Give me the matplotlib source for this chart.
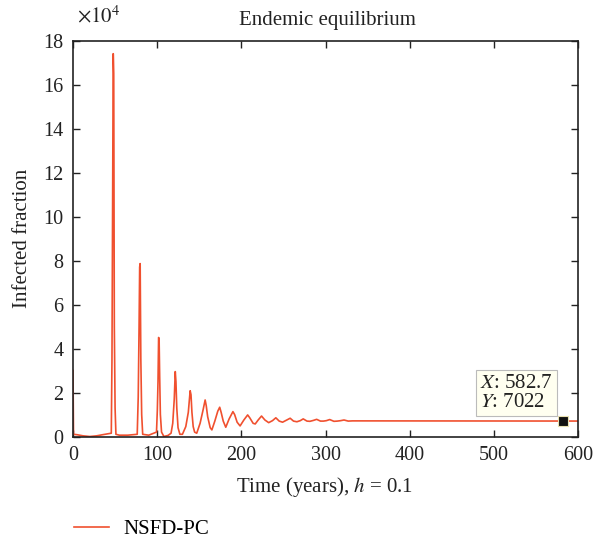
import matplotlib
matplotlib.use('Agg')
import matplotlib.pyplot as plt

# infected fraction in units of 1e4, keypoints
time_years = [0, 0.6, 5, 12, 20, 28, 35, 45.5, 46.3, 47.0, 47.8, 48.4, 49.1, 50.0, 51.0,
              55, 65, 76.3, 77.5, 78.5, 79.2, 79.8, 80.6, 81.6, 82.8, 90, 99.2,
              100.2, 101.0, 101.7, 102.3, 103.0, 103.8, 105.2, 108, 113, 116.5,
              118.5, 120.3, 121.5, 122.3, 123.3, 124.8, 127, 130,
              134, 137, 139.2, 140.2, 141.3, 142.8, 144.5, 147,
              151, 154.5, 157.0, 158.3, 160, 163, 165,
              168.5, 172, 174.3, 176, 178.5, 181.5,
              185.5, 190, 192, 195, 198.5,
              203, 207.5, 210, 214, 216.5,
              220, 224, 228, 232.5,
              237, 241, 245, 249,
              254, 258, 262, 266,
              270, 273.5, 278, 281.5, 285.5, 289.5, 294, 297.5, 301, 305, 310, 314, 318, 322, 327, 332, 600]
infected = [3.0, 0.1, 0.08, 0.03, 0.0, 0.03, 0.08, 0.15, 3.5, 10.0, 17.4, 16.5, 5.0, 1.3, 0.1,
            0.06, 0.06, 0.1, 1.8, 5.0, 7.7, 7.86, 3.5, 1.0, 0.1, 0.06, 0.2,
            1.2, 2.5, 4.5, 4.45, 2.7, 1.0, 0.2, 0.0, 0.05, 0.15,
            0.6, 1.7, 2.95, 2.5, 1.3, 0.4, 0.1, 0.1,
            0.45, 1.1, 2.08, 1.9, 1.1, 0.45, 0.2, 0.15,
            0.6, 1.2, 1.66, 1.4, 0.9, 0.4, 0.3,
            0.7, 1.15, 1.33, 1.1, 0.7, 0.42,
            0.8, 1.13, 1.0, 0.65, 0.48,
            0.75, 0.98, 0.85, 0.6, 0.57,
            0.75, 0.93, 0.75, 0.63,
            0.72, 0.85, 0.7, 0.65,
            0.75, 0.83, 0.7, 0.67,
            0.72, 0.8, 0.7, 0.69, 0.73, 0.78, 0.7, 0.7, 0.72, 0.77, 0.69, 0.7, 0.72, 0.75, 0.7, 0.71, 0.7022]

tip_x = 582.7
tip_y = 0.7022  # 7022 / 1e4

x_ticks = [0, 100, 200, 300, 400, 500, 600]
y_ticks = [0, 2, 4, 6, 8, 10, 12, 14, 16, 18]

W, H = 604, 542
plt.rcParams['font.family'] = ['Liberation Serif', 'DejaVu Serif']
plt.rcParams['mathtext.fontset'] = 'stix'
fs = 15

line_color = '#f0502f'
text_color = '#222222'

fig = plt.figure(figsize=(W / 100, H / 100), dpi=100)
left, right, top, bottom = 73, 578, 40.5, 436.5
ax = fig.add_axes([left / W, 1 - bottom / H, (right - left) / W, (bottom - top) / H])

line, = ax.plot(time_years, infected, color=line_color, lw=1.2, label='NSFD-PC')
ax.plot([tip_x], [tip_y], marker='s', ms=7, color='#111111', mec='#e8e0b0', mew=0.8)

ax.annotate('$X$: 582.7\n$Y$: 7022', xy=(tip_x, tip_y), xytext=(-34, 20),
            textcoords='offset points', ha='center', va='center', fontsize=fs,
            linespacing=1.0, color=text_color, multialignment='left',
            bbox=dict(boxstyle='square,pad=0.2', facecolor='#fffff0', edgecolor='#bbbbbb', lw=0.8))

ax.set_xlim(0, 600)
ax.set_ylim(0, 18)
ax.set_xticks(x_ticks)
ax.set_yticks(y_ticks)
ax.tick_params(direction='in', length=5, width=1, top=True, right=True,
               labelsize=fs - 0.5, pad=7, colors=text_color)
for s in ax.spines.values():
    s.set_linewidth(1.2)
    s.set_color(text_color)

# title, axis labels and exponent placed in pixels to match the reference
fig.text(327 / W, 1 - 20 / H, 'Endemic equilibrium', fontsize=fs, ha='center', va='center', color=text_color)
fig.text(325 / W, 1 - 487 / H, 'Time (years), $h$ = 0.1', fontsize=fs, ha='center', va='center', color=text_color)
fig.text(22.5 / W, 1 - 238 / H, 'Infected fraction', fontsize=fs, ha='center', va='center',
         rotation=90, color=text_color)
fig.text(77 / W, 1 - 17 / H, r'$\times 10^4$', fontsize=fs, va='center', color=text_color)

fig.legend(handles=[line], loc='center left', bbox_to_anchor=(74 / W, 1 - 529 / H),
           frameon=False, fontsize=fs, handlelength=1.7, handletextpad=0.65,
           borderpad=0, borderaxespad=0)

fig.savefig('out.png', dpi=100)
